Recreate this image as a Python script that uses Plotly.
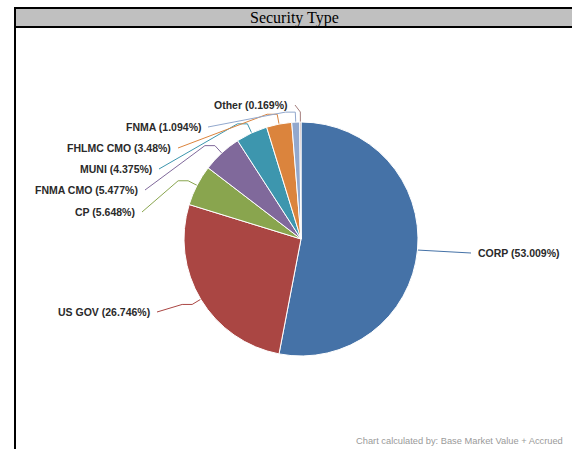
import numpy as np
import plotly.graph_objects as go

# Portfolio allocation by security type (percent of market value)
security_types = ["CORP", "US GOV", "CP", "FNMA CMO", "MUNI", "FHLMC CMO", "FNMA", "Other"]
weights_pct = [53.009, 26.746, 5.648, 5.477, 4.375, 3.48, 1.094, 0.169]
slice_colors = ["#4572A7", "#AA4643", "#89A54E", "#80699B",
                "#3D96AE", "#DB843D", "#92A8CD", "#A47D7C"]

# Page geometry (pixels)
W, H = 572, 449
cx, cy, R = 301, 239, 117

# Where each data label sits: anchor x, y and which side of the pie
label_x = [476, 152, 137, 140, 154, 173, 203, 290]
label_y = [253, 312, 212, 190, 169, 148, 127, 105]
label_side = [1, -1, -1, -1, -1, -1, -1, -1]

vals = np.array(weights_pct, dtype=float)
frac = vals / vals.sum()
mid_angle = 2 * np.pi * (np.cumsum(frac) - frac / 2)  # clockwise from 12 o'clock


def polar_pt(theta, rho):
    return cx + rho * np.sin(theta), cy - rho * np.cos(theta)


fig = go.Figure()

fig.add_trace(go.Pie(
    labels=security_types,
    values=weights_pct,
    sort=False,
    direction="clockwise",
    rotation=0,
    marker=dict(colors=slice_colors, line=dict(color="white", width=1)),
    textinfo="none",
    hoverinfo="label+percent",
    showlegend=False,
    domain=dict(x=[(cx - R) / W, (cx + R) / W],
                y=[(H - cy - R) / H, (H - cy + R) / H]),
))

annotations = []
for i, name in enumerate(security_types):
    th = mid_angle[i]
    ex, ey = polar_pt(th, R)
    bx, by = polar_pt(th, R + 10)
    side = label_side[i]
    sx = label_x[i] - 5 if side > 0 else label_x[i] + 5
    sy = label_y[i]
    xs, ys = [sx], [sy]
    c_x = bx + side * 10
    if (side < 0 and sx < c_x) or (side > 0 and sx > c_x):
        xs.append(c_x)
        ys.append(by)
    xs += [bx, ex]
    ys += [by, ey]
    fig.add_trace(go.Scatter(
        x=xs, y=ys, mode="lines",
        line=dict(color=slice_colors[i], width=1),
        hoverinfo="skip", showlegend=False,
    ))
    annotations.append(dict(
        x=label_x[i], y=label_y[i], xref="x", yref="y",
        text=f"<b>{name} ({weights_pct[i]}%)</b>",
        showarrow=False,
        xanchor="left" if side > 0 else "right", yanchor="middle",
        font=dict(family="Liberation Sans, Arial, sans-serif", size=10.5, color="#2a2a2a"),
    ))

# Header caption and footnote
annotations.append(dict(
    x=294, y=18, xref="x", yref="y", text="Security Type", showarrow=False,
    xanchor="center", yanchor="middle",
    font=dict(family="Liberation Serif, Times New Roman, serif", size=16, color="black"),
))
annotations.append(dict(
    x=354, y=441, xref="x", yref="y",
    text="Chart calculated by: Base Market Value + Accrued",
    showarrow=False, xanchor="left", yanchor="middle",
    font=dict(family="Liberation Sans, Arial, sans-serif", size=9.3, color="#9a9a9a"),
))

shapes = [
    dict(type="rect", xref="x", yref="y", x0=15, x1=W + 5, y0=8, y1=27,
         fillcolor="#C0C0C0", line=dict(color="black", width=2), layer="below"),
    dict(type="line", xref="x", yref="y", x0=15, x1=15, y0=7, y1=H + 5,
         line=dict(color="black", width=2)),
]

fig.update_layout(
    width=W, height=H,
    margin=dict(l=0, r=0, t=0, b=0),
    paper_bgcolor="white", plot_bgcolor="white",
    xaxis=dict(range=[0, W], visible=False, fixedrange=True),
    yaxis=dict(range=[H, 0], visible=False, fixedrange=True),
    annotations=annotations,
    shapes=shapes,
    showlegend=False,
)

fig.write_html("out.html")
